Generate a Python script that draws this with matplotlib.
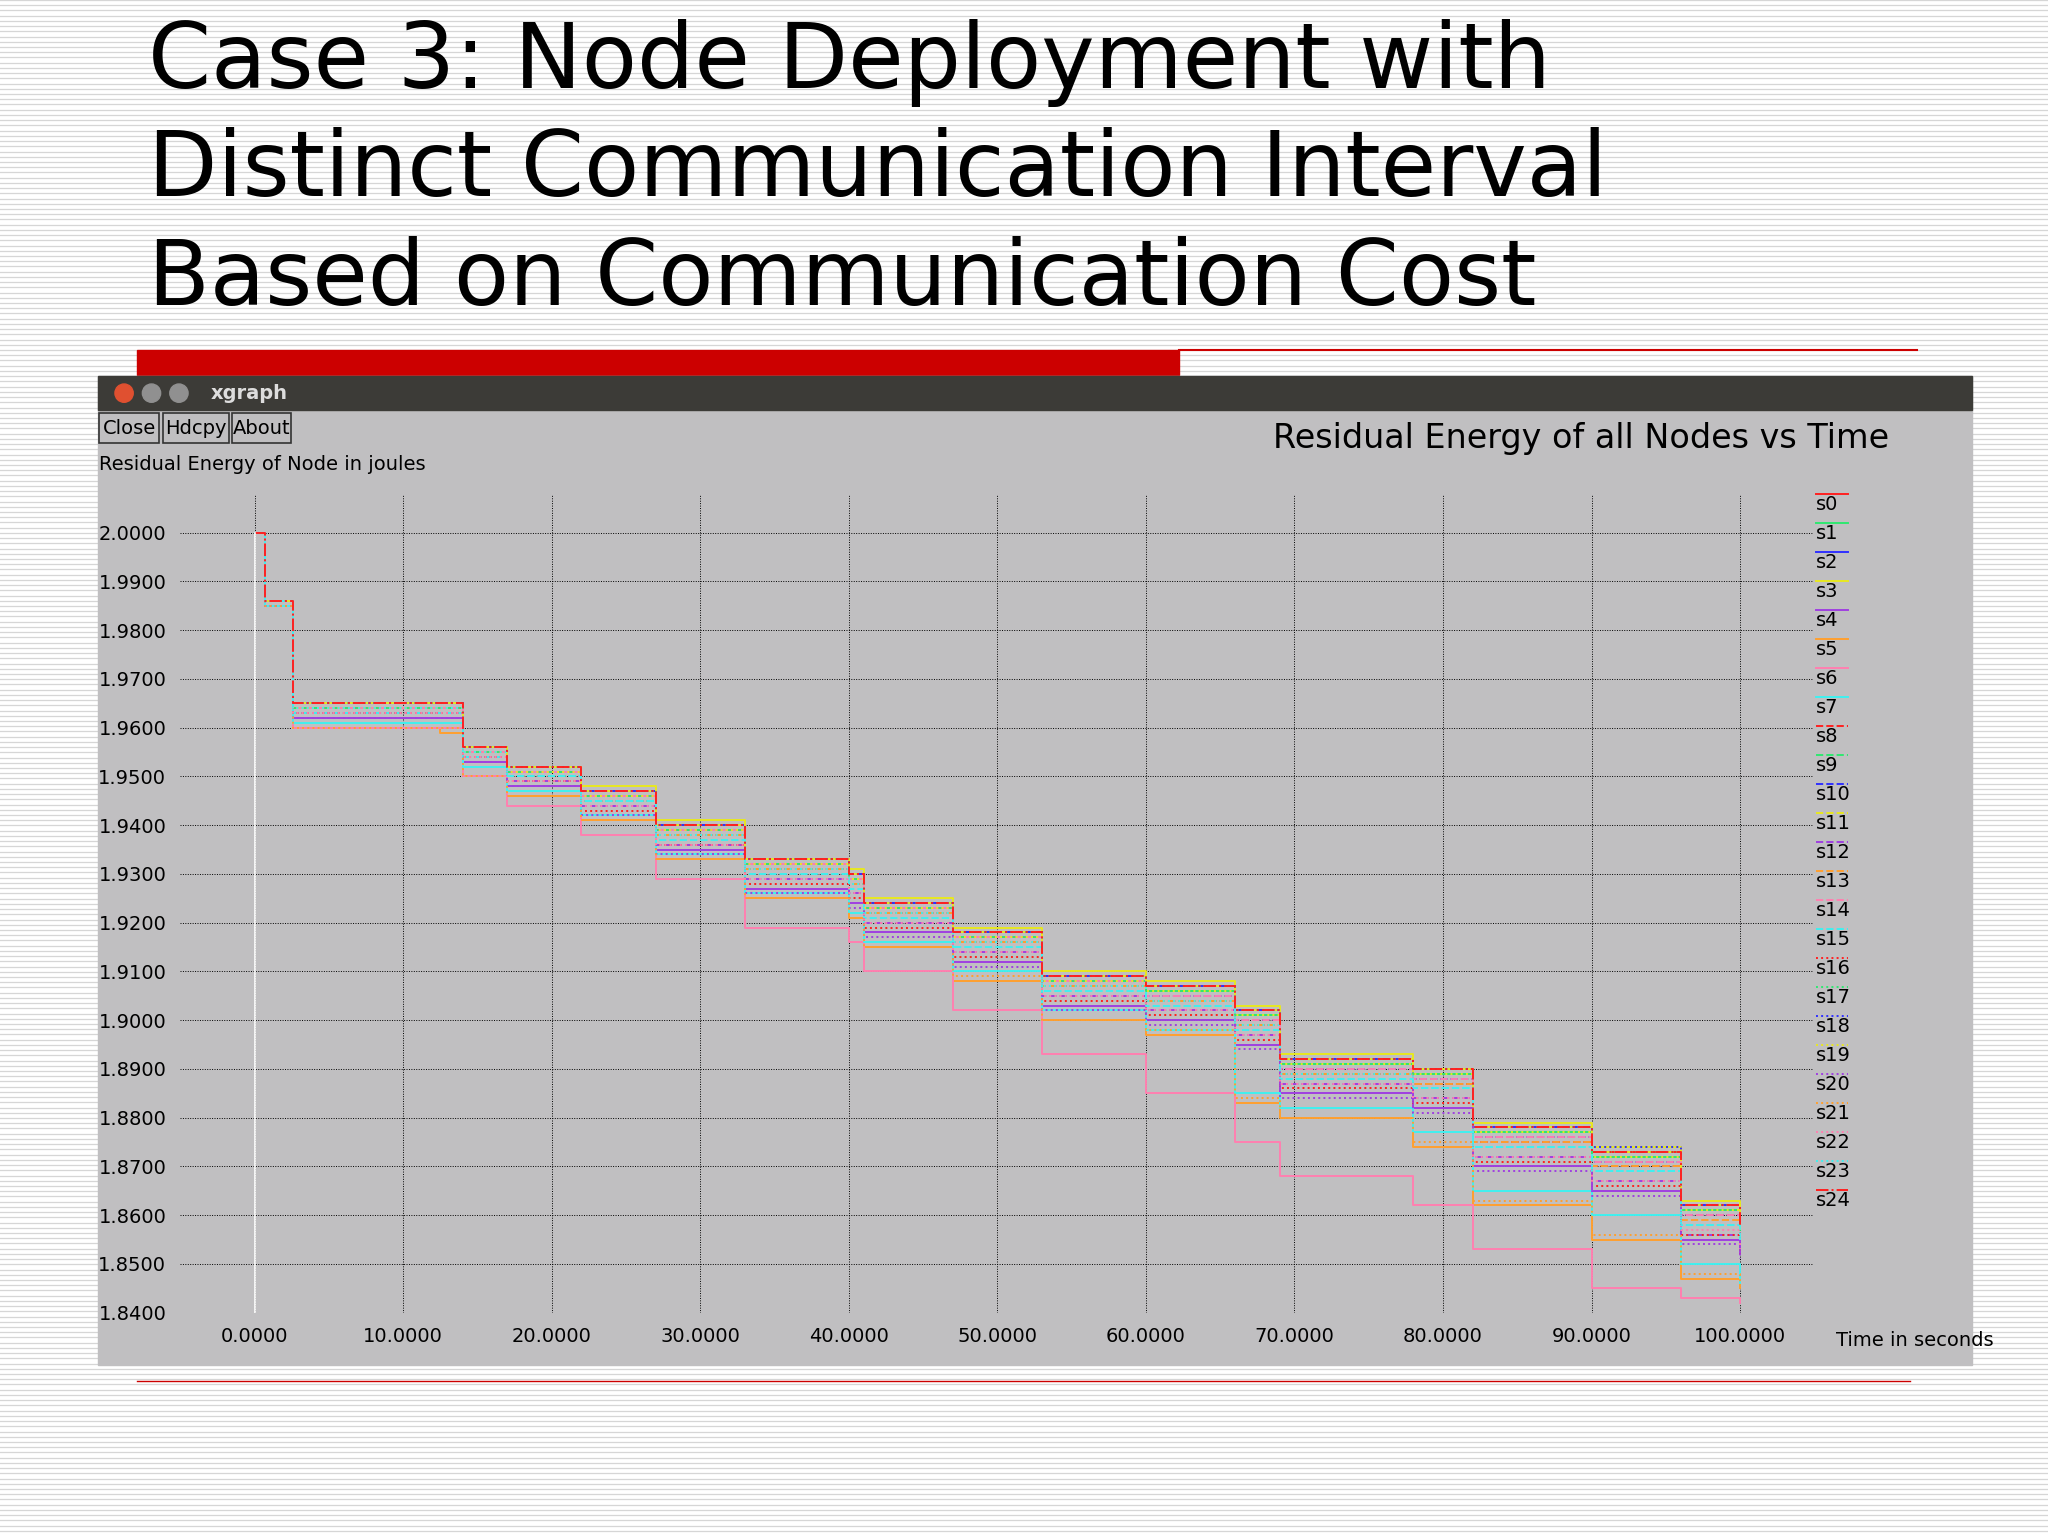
import matplotlib.pyplot as plt
from matplotlib.patches import Rectangle

W, H = 1568, 1176  # layout units (reference at reduced scale)

# ---- data ----
times = [0, 0.7, 2.6, 12.5, 14, 17, 22, 27, 33, 40, 41, 47, 53, 60, 66, 69, 78, 82, 90, 96, 100]
series = {
    's0':  [2.0, 1.986, 1.965, 1.965, 1.956, 1.952, 1.947, 1.940, 1.933, 1.930, 1.924, 1.918, 1.909, 1.907, 1.902, 1.892, 1.890, 1.878, 1.873, 1.862, 1.858],
    's1':  [2.0, 1.986, 1.964, 1.964, 1.955, 1.951, 1.946, 1.939, 1.932, 1.929, 1.923, 1.917, 1.908, 1.906, 1.901, 1.891, 1.889, 1.877, 1.872, 1.861, 1.857],
    's2':  [2.0, 1.986, 1.965, 1.965, 1.956, 1.952, 1.947, 1.940, 1.933, 1.930, 1.924, 1.918, 1.909, 1.907, 1.902, 1.892, 1.890, 1.878, 1.874, 1.862, 1.858],
    's3':  [2.0, 1.986, 1.965, 1.965, 1.956, 1.952, 1.948, 1.941, 1.933, 1.931, 1.925, 1.919, 1.910, 1.908, 1.903, 1.893, 1.890, 1.879, 1.874, 1.863, 1.859],
    's4':  [2.0, 1.985, 1.962, 1.962, 1.953, 1.948, 1.942, 1.935, 1.927, 1.924, 1.918, 1.912, 1.903, 1.900, 1.895, 1.885, 1.882, 1.870, 1.865, 1.855, 1.852],
    's5':  [2.0, 1.985, 1.960, 1.959, 1.950, 1.946, 1.941, 1.933, 1.925, 1.921, 1.915, 1.908, 1.900, 1.897, 1.883, 1.880, 1.874, 1.862, 1.855, 1.847, 1.845],
    's6':  [2.0, 1.985, 1.960, 1.960, 1.950, 1.944, 1.938, 1.929, 1.919, 1.916, 1.910, 1.902, 1.893, 1.885, 1.875, 1.868, 1.862, 1.853, 1.845, 1.843, 1.842],
    's7':  [2.0, 1.985, 1.961, 1.961, 1.952, 1.947, 1.942, 1.934, 1.926, 1.922, 1.916, 1.910, 1.902, 1.898, 1.885, 1.882, 1.877, 1.865, 1.860, 1.850, 1.846],
    's8':  [2.0, 1.986, 1.964, 1.964, 1.955, 1.950, 1.945, 1.938, 1.931, 1.928, 1.922, 1.916, 1.907, 1.904, 1.899, 1.889, 1.887, 1.875, 1.870, 1.860, 1.856],
    's9':  [2.0, 1.986, 1.965, 1.965, 1.956, 1.951, 1.946, 1.939, 1.932, 1.929, 1.923, 1.917, 1.908, 1.906, 1.901, 1.891, 1.889, 1.877, 1.873, 1.861, 1.857],
    's10': [2.0, 1.986, 1.964, 1.964, 1.955, 1.951, 1.946, 1.939, 1.932, 1.929, 1.923, 1.917, 1.908, 1.905, 1.900, 1.890, 1.888, 1.876, 1.871, 1.860, 1.856],
    's11': [2.0, 1.986, 1.965, 1.965, 1.956, 1.952, 1.947, 1.940, 1.933, 1.930, 1.924, 1.918, 1.909, 1.907, 1.902, 1.892, 1.890, 1.878, 1.873, 1.862, 1.857],
    's12': [2.0, 1.986, 1.963, 1.963, 1.954, 1.949, 1.944, 1.936, 1.929, 1.926, 1.920, 1.914, 1.905, 1.902, 1.897, 1.887, 1.884, 1.872, 1.867, 1.856, 1.853],
    's13': [2.0, 1.986, 1.964, 1.964, 1.955, 1.950, 1.945, 1.938, 1.931, 1.928, 1.922, 1.916, 1.907, 1.904, 1.899, 1.889, 1.887, 1.875, 1.870, 1.859, 1.855],
    's14': [2.0, 1.986, 1.964, 1.964, 1.955, 1.951, 1.946, 1.939, 1.932, 1.929, 1.923, 1.917, 1.908, 1.905, 1.900, 1.890, 1.888, 1.876, 1.871, 1.860, 1.856],
    's15': [2.0, 1.986, 1.963, 1.963, 1.954, 1.950, 1.945, 1.937, 1.930, 1.927, 1.921, 1.915, 1.906, 1.903, 1.898, 1.888, 1.886, 1.874, 1.869, 1.858, 1.854],
    's16': [2.0, 1.986, 1.963, 1.963, 1.954, 1.949, 1.943, 1.936, 1.928, 1.925, 1.919, 1.913, 1.904, 1.901, 1.896, 1.886, 1.883, 1.871, 1.866, 1.856, 1.852],
    's17': [2.0, 1.986, 1.965, 1.965, 1.956, 1.952, 1.947, 1.940, 1.933, 1.930, 1.924, 1.918, 1.909, 1.907, 1.902, 1.892, 1.890, 1.878, 1.873, 1.862, 1.858],
    's18': [2.0, 1.986, 1.965, 1.965, 1.956, 1.952, 1.947, 1.940, 1.933, 1.930, 1.924, 1.918, 1.909, 1.907, 1.902, 1.892, 1.890, 1.878, 1.874, 1.862, 1.858],
    's19': [2.0, 1.986, 1.964, 1.964, 1.955, 1.951, 1.946, 1.939, 1.932, 1.929, 1.923, 1.917, 1.908, 1.906, 1.901, 1.891, 1.889, 1.877, 1.872, 1.861, 1.857],
    's20': [2.0, 1.985, 1.962, 1.962, 1.953, 1.948, 1.942, 1.934, 1.926, 1.923, 1.917, 1.911, 1.902, 1.899, 1.894, 1.884, 1.881, 1.869, 1.864, 1.854, 1.851],
    's21': [2.0, 1.985, 1.960, 1.960, 1.950, 1.946, 1.941, 1.933, 1.925, 1.921, 1.915, 1.909, 1.900, 1.898, 1.884, 1.880, 1.875, 1.863, 1.856, 1.848, 1.846],
    's22': [2.0, 1.986, 1.963, 1.963, 1.954, 1.949, 1.944, 1.936, 1.929, 1.926, 1.920, 1.914, 1.905, 1.902, 1.897, 1.887, 1.884, 1.872, 1.867, 1.857, 1.853],
    's23': [2.0, 1.986, 1.964, 1.964, 1.955, 1.950, 1.945, 1.938, 1.931, 1.928, 1.922, 1.916, 1.907, 1.904, 1.899, 1.889, 1.886, 1.874, 1.869, 1.858, 1.855],
    's24': [2.0, 1.986, 1.965, 1.965, 1.956, 1.952, 1.947, 1.940, 1.933, 1.930, 1.924, 1.918, 1.909, 1.907, 1.902, 1.892, 1.890, 1.878, 1.873, 1.862, 1.858],
}
xticks = [0, 10, 20, 30, 40, 50, 60, 70, 80, 90, 100]
yticks = [1.84, 1.85, 1.86, 1.87, 1.88, 1.89, 1.90, 1.91, 1.92, 1.93, 1.94, 1.95, 1.96, 1.97, 1.98, 1.99, 2.00]
title_lines = ['Case 3: Node Deployment with', 'Distinct Communication Interval', 'Based on Communication Cost']

palette = ['#ff2020', '#30e870', '#3030ff', '#e8e820', '#a040e0', '#ffa030', '#ff80b0', '#40f0f0']
styles = ['-', '--', ':', '-.']

fig = plt.figure(figsize=(20.48, 15.36), dpi=100)

# ---- slide background / decorations in layout units ----
bg = fig.add_axes([0, 0, 1, 1])
bg.set_xlim(0, W)
bg.set_ylim(H, 0)
bg.axis('off')
for y in range(0, H, 4):
    bg.axhline(y, color='#d6d6d6', lw=0.9, zorder=0)
for k, line in enumerate(title_lines):
    bg.text(113, 48 + k * 83, line, fontsize=65, va='center', ha='left', color='black', zorder=3)
bg.add_patch(Rectangle((105, 268), 798, 19, color='#cc0000', zorder=2))
bg.plot([903, 1468], [268, 268], color='#cc0000', lw=1.5, zorder=2)
bg.plot([105, 1462], [1057, 1057], color='#cc0000', lw=1, zorder=2)
bg.add_patch(Rectangle((75, 288), 1435, 757, color='#c0bfc1', zorder=2))
bg.add_patch(Rectangle((75, 288), 1435, 26, color='#3c3b37', zorder=2))
for cx, c in [(95, '#e05030'), (116, '#909090'), (137, '#909090')]:
    bg.add_patch(plt.Circle((cx, 301), 7, color=c, zorder=3))
bg.text(161, 301, 'xgraph', color='#dddddd', fontsize=14, fontweight='bold', va='center', zorder=3)
for x0, w, lab in [(76, 46, 'Close'), (125, 50, 'Hdcpy'), (178, 45, 'About')]:
    bg.add_patch(Rectangle((x0, 316), w, 23, fill=False, ec='#333333', lw=1.2, zorder=3))
    bg.text(x0 + w / 2, 328, lab, ha='center', va='center', fontsize=14, zorder=3)
bg.text(76, 356, 'Residual Energy of Node in joules', fontsize=14, va='center', zorder=3)
bg.text(1446, 336, 'Residual Energy of all Nodes vs Time', fontsize=24, ha='right', va='center', zorder=3)
bg.text(1406, 1026, 'Time in seconds', fontsize=14, va='center', zorder=3)

# ---- plot area ----
ax = fig.add_axes([138 / W, 1 - 1005 / H, (1388 - 138) / W, (1005 - 378) / H])
ax.set_facecolor('#c0bfc1')
for s in ax.spines.values():
    s.set_visible(False)
ax.set_xlim(-5.01, 104.9)
ax.set_ylim(1.84, 2.008)
ax.set_xticks(xticks)
ax.set_xticklabels(['%.4f' % v for v in xticks], fontsize=14)
ax.set_yticks(yticks)
ax.set_yticklabels(['%.4f' % v for v in yticks], fontsize=14)
ax.tick_params(length=0, pad=10)
ax.grid(True, color='black', ls=(0, (1, 1.5)), lw=0.7)

for i, (name, vals) in enumerate(series.items()):
    ax.plot(times, vals, drawstyle='steps-post', color=palette[i % 8],
            ls=styles[i // 8], lw=1.4)
ax.axvline(0, color='white', lw=1.2, ymax=(2.0 - 1.84) / (2.008 - 1.84))

# legend entries
for i, name in enumerate(series):
    y = 386 + i * 22.2
    bg.text(1390, y, name, fontsize=14, va='center', zorder=3)
    bg.plot([1390, 1415], [y - 8, y - 8], color=palette[i % 8], ls=styles[i // 8], lw=1.4, zorder=3)

fig.savefig('out.png', dpi=100)
